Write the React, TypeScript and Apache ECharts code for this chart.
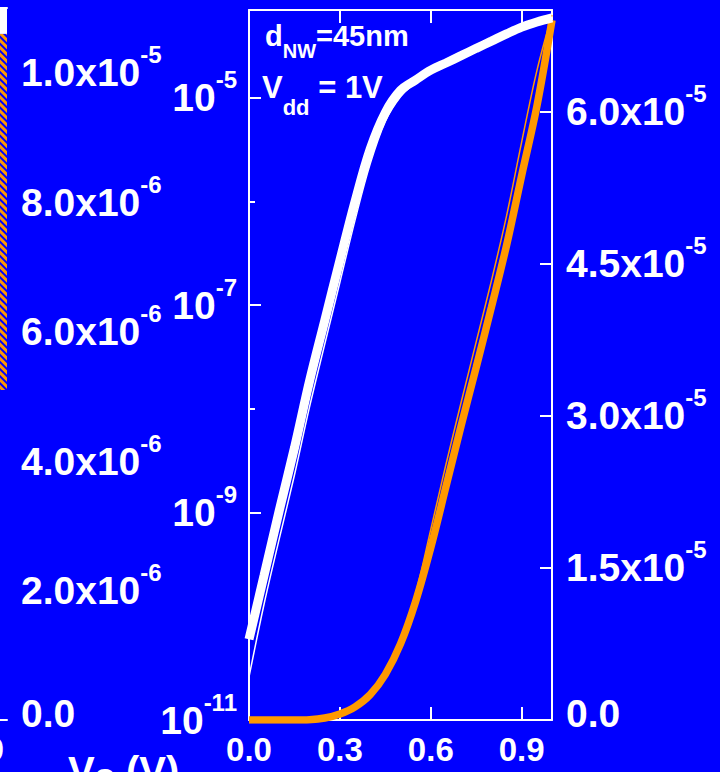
import React, { useEffect, useRef } from 'react';
import * as echarts from 'echarts';

// ---------- data ----------
const gateVoltage = [0, 0.05, 0.1, 0.15, 0.2, 0.25, 0.3, 0.35, 0.4, 0.45, 0.5, 0.55, 0.6, 0.65, 0.7, 0.75, 0.8, 0.85, 0.9, 0.95, 1.0];

// white curves, read on the left (log) axis, A
const whiteMain = [6.0e-11, 2.5e-10, 1.05e-9, 4.2e-9, 1.86e-8, 7.1e-8, 2.7e-7, 1.0e-6, 3.2e-6, 7.2e-6, 1.175e-5, 1.48e-5, 1.84e-5, 2.16e-5, 2.54e-5, 2.99e-5, 3.51e-5, 4.12e-5, 4.79e-5, 5.37e-5, 5.89e-5];
const whiteThin = [2.6e-11, 1.32e-10, 5.6e-10, 2.3e-9, 1.05e-8, 4.2e-8, 1.66e-7, 6.6e-7, 2.3e-6, 5.9e-6, 1.02e-5, 1.4e-5, 1.78e-5, 2.13e-5, 2.52e-5, 2.98e-5, 3.5e-5, 4.11e-5, 4.78e-5, 5.36e-5, 5.89e-5];

// orange curves, read on the right (linear) axis, A
const orangeMain = [0, 0, 0, 0, 3e-8, 2e-7, 6e-7, 1.3e-6, 2.5e-6, 4.5e-6, 7.5e-6, 1.17e-5, 1.7e-5, 2.3e-5, 2.9e-5, 3.48e-5, 4.07e-5, 4.68e-5, 5.37e-5, 6.05e-5, 6.9e-5];
const orangeThin = [0, 0, 0, 0, 3e-8, 2e-7, 6e-7, 1.3e-6, 2.6e-6, 4.7e-6, 7.8e-6, 1.25e-5, 1.88e-5, 2.52e-5, 3.13e-5, 3.73e-5, 4.33e-5, 4.97e-5, 5.7e-5, 6.4e-5, 6.95e-5];

// left (cropped) panel: only its right edge is visible
const leftVoltage = [0.9, 1.0];
const leftOrangeLow = [5.1e-6, 5.1e-6];
const leftOrangeHigh = [1.06e-5, 1.06e-5];
const leftWhiteHigh = [1.1e-5, 1.1e-5];

// tick values / labels
const xTicks = [0, 0.3, 0.6, 0.9];
const logLabelTicks = [1e-11, 1e-9, 1e-7, 1e-5];
const logMinorTicks = [1e-10, 1e-8, 1e-6];
const rightTicks = [0, 1.5e-5, 3.0e-5, 4.5e-5, 6.0e-5];
const leftPanelLabels = [0, 2e-6, 4e-6, 6e-6, 8e-6, 1e-5];
const leftPanelTicks = [1e-6, 2e-6, 3e-6, 4e-6, 5e-6, 6e-6, 7e-6, 8e-6, 9e-6, 1e-5];
const leftPanelXLabels = [0.9];

const FONT = "'Liberation Sans', Arial, Helvetica, sans-serif";
const WHITE = '#ffffff';
const BLUE = '#0000ff';
const ORANGE = '#ff9900';

const richLabel = {
  b: { color: WHITE, fontSize: 39, fontWeight: 'bold', fontFamily: FONT, lineHeight: 60 },
  s: { color: WHITE, fontSize: 24, fontWeight: 'bold', fontFamily: FONT, lineHeight: 24, verticalAlign: 'top' },
  z: { color: WHITE, fontSize: 39, fontWeight: 'bold', fontFamily: FONT, lineHeight: 40, padding: [0, 0, 14, 0] },
};

const fmtLin = (v: number) => {
  if (Math.abs(v) < 1e-12) return '{z|0.0}';
  const e = Math.floor(Math.log10(v) + 1e-9);
  const m = v / Math.pow(10, e);
  return `{b|${m.toFixed(1)}x10}{s|${e}}`;
};
const fmtLog = (v: number) => `{b|10}{s|${Math.round(Math.log10(v))}}`;

const zip = (xs: number[], ys: number[]) => xs.map((x, i) => [x, ys[i]]);

const textTok = (size: number, padBottom: number) => ({
  fontSize: size, fontWeight: 'bold', fontFamily: FONT, fill: WHITE, verticalAlign: 'bottom',
  padding: [0, 0, padBottom, 0],
});

export default function App() {
  const ref = useRef<HTMLDivElement>(null);
  useEffect(() => {
    if (!ref.current) return;
    const chart = echarts.init(ref.current, null, { renderer: 'svg' });
    const axisLine = { show: true, lineStyle: { color: WHITE, width: 2 } };
    const xLabel = {
      color: WHITE, fontSize: 33, fontWeight: 'bold', fontFamily: FONT, margin: 13,
      formatter: (v: number) => v.toFixed(1),
    };
    const lineCommon = { type: 'line', symbol: 'none', smooth: 0.35 };
    const option: any = {
      animation: false,
      backgroundColor: BLUE,
      grid: [
        { left: 249, top: 10, width: 303, height: 710, outerBoundsMode: 'none', containLabel: false },
        { left: -253, top: 8, width: 260, height: 712, outerBoundsMode: 'none', containLabel: false },
      ],
      xAxis: [
        {
          type: 'value', gridIndex: 0, position: 'bottom', min: 0, max: 1,
          axisLine, splitLine: { show: false },
          axisTick: { show: true, inside: true, length: 13, lineStyle: { color: WHITE, width: 2 }, customValues: xTicks },
          axisLabel: { ...xLabel, customValues: xTicks },
        },
        {
          type: 'value', gridIndex: 0, position: 'top', min: 0, max: 1,
          axisLine, splitLine: { show: false },
          axisTick: { show: true, inside: true, length: 13, lineStyle: { color: WHITE, width: 2 }, customValues: xTicks.slice(1) },
          axisLabel: { show: false },
        },
        {
          type: 'value', gridIndex: 1, position: 'bottom', min: 0, max: 1,
          axisLine, splitLine: { show: false }, axisTick: { show: false },
          axisLabel: { ...xLabel, customValues: leftPanelXLabels },
        },
        {
          type: 'value', gridIndex: 1, position: 'top', min: 0, max: 1,
          axisLine, splitLine: { show: false }, axisTick: { show: false }, axisLabel: { show: false },
        },
      ],
      yAxis: [
        {
          type: 'log', logBase: 10, gridIndex: 0, position: 'left', min: 1e-11, max: 7e-5,
          axisLine, splitLine: { show: false }, minorTick: { show: false },
          axisTick: { show: true, inside: true, length: 12, lineStyle: { color: WHITE, width: 2 }, customValues: logLabelTicks },
          axisLabel: { margin: 12, formatter: fmtLog, rich: richLabel, customValues: logLabelTicks },
        },
        {
          type: 'log', logBase: 10, gridIndex: 0, position: 'left', min: 1e-11, max: 7e-5,
          axisLine: { show: false }, splitLine: { show: false },
          axisTick: { show: true, inside: true, length: 6, lineStyle: { color: WHITE, width: 2 }, customValues: logMinorTicks },
          axisLabel: { show: false },
        },
        {
          type: 'value', gridIndex: 0, position: 'right', min: 0, max: 7e-5,
          axisLine, splitLine: { show: false },
          axisTick: { show: true, inside: true, length: 12, lineStyle: { color: WHITE, width: 2 }, customValues: rightTicks },
          axisLabel: { margin: 14, formatter: fmtLin, rich: richLabel, customValues: rightTicks },
        },
        {
          type: 'value', gridIndex: 1, position: 'right', min: 0, max: 1.1e-5,
          axisLine, splitLine: { show: false },
          axisTick: { show: true, inside: true, length: 12, lineStyle: { color: WHITE, width: 2 }, customValues: leftPanelTicks },
          axisLabel: { margin: 14, formatter: fmtLin, rich: richLabel, customValues: leftPanelLabels },
        },
      ],
      series: [
        {
          type: 'line', name: 'left-orange', xAxisIndex: 2, yAxisIndex: 3,
          data: zip(leftVoltage, leftOrangeHigh), symbol: 'none',
          lineStyle: { width: 0, color: ORANGE },
          itemStyle: {
            color: ORANGE,
            decal: { symbol: 'rect', symbolSize: 1, color: BLUE, dashArrayX: [1, 0], dashArrayY: [2, 3], rotation: Math.PI / 4 },
          },
          areaStyle: { color: ORANGE, opacity: 1, origin: leftOrangeLow[0] },
        },
        {
          type: 'line', name: 'left-white', xAxisIndex: 2, yAxisIndex: 3,
          data: zip(leftVoltage, leftWhiteHigh), symbol: 'none',
          lineStyle: { width: 0, color: WHITE }, itemStyle: { color: WHITE },
          areaStyle: { color: WHITE, opacity: 1, origin: leftOrangeHigh[0] },
        },
        {
          ...lineCommon, name: 'orange-thin', xAxisIndex: 0, yAxisIndex: 2, data: zip(gateVoltage, orangeThin),
          lineStyle: { color: ORANGE, width: 1.5 }, z: 3,
        },
        {
          ...lineCommon, name: 'orange', xAxisIndex: 0, yAxisIndex: 2, data: zip(gateVoltage, orangeMain),
          lineStyle: { color: ORANGE, width: 7.5 }, z: 3,
        },
        {
          ...lineCommon, name: 'white-thin', xAxisIndex: 0, yAxisIndex: 0, data: zip(gateVoltage, whiteThin),
          lineStyle: { color: WHITE, width: 1.5 }, z: 4,
        },
        {
          ...lineCommon, name: 'white', xAxisIndex: 0, yAxisIndex: 0, data: zip(gateVoltage, whiteMain),
          lineStyle: { color: WHITE, width: 9 }, z: 4,
        },
      ],
      graphic: [
        {
          type: 'text', x: 265, y: 61, z: 10,
          style: {
            text: '{a|d}{b|NW}{a|=45nm}', align: 'left', verticalAlign: 'bottom', fill: WHITE,
            rich: { a: textTok(29, 11), b: textTok(20, 0) },
          },
        },
        {
          type: 'text', x: 262, y: 118, z: 10,
          style: {
            text: '{a|V}{b|dd}{a| = 1V}', align: 'left', verticalAlign: 'bottom', fill: WHITE,
            rich: { a: textTok(31, 15), b: textTok(22, 0) },
          },
        },
        {
          type: 'text', x: 68, y: 771, z: 10,
          style: {
            text: '{a|V}{b|G}{a| (V)}', align: 'left', verticalAlign: 'middle', fill: WHITE,
            rich: { a: textTok(40, 0), b: textTok(26, 0) },
          },
        },
      ],
    };
    chart.setOption(option);
    return () => chart.dispose();
  }, []);
  return (
    <div
      ref={ref}
      style={{ position: 'fixed', left: 0, top: 0, width: 720, height: 772, background: BLUE }}
    />
  );
}
